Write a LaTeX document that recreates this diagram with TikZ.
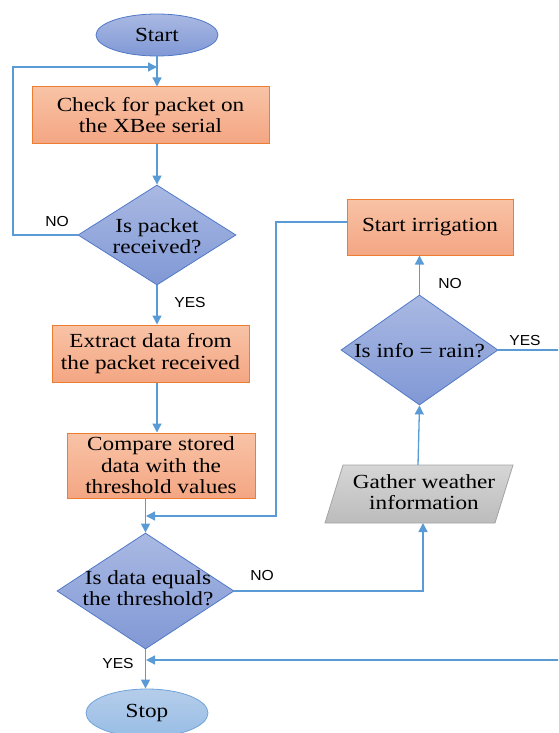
\documentclass[tikz,border=0pt]{standalone}
\usepackage{fontspec}
\setmainfont{Liberation Serif}[FakeStretch=1.16]
\newfontfamily\lblfont{Liberation Sans}[FakeStretch=1.08]
\usetikzlibrary{shapes.geometric,arrows.meta,calc}
\definecolor{procTop}{HTML}{F8C3A6}
\definecolor{procBot}{HTML}{F4A683}
\definecolor{procBorder}{HTML}{ED7D31}
\definecolor{decTop}{HTML}{AAB9E3}
\definecolor{decBot}{HTML}{8098D5}
\definecolor{decBorder}{HTML}{5079C8}
\definecolor{stopTop}{HTML}{B5CDEA}
\definecolor{stopBot}{HTML}{98BDE5}
\definecolor{stopBorder}{HTML}{6FA3DA}
\definecolor{ioTop}{HTML}{D6D6D6}
\definecolor{ioBot}{HTML}{BCBCBC}
\definecolor{ioBorder}{HTML}{A3A3A3}
\definecolor{lineC}{HTML}{5B9BD5}
\tikzset{
  proc/.style={draw=procBorder, line width=1pt, top color=procTop, bottom color=procBot,
    rectangle, inner sep=0pt, align=center, font=\fontsize{20}{21.5}\selectfont},
  dec/.style={draw=decBorder, line width=0.8pt, top color=decTop, bottom color=decBot,
    diamond, inner sep=0pt},
  term/.style={ellipse, inner sep=0pt, line width=0.8pt, font=\fontsize{20}{21.5}\selectfont},
  txt/.style={align=center, inner sep=0pt, font=\fontsize{20}{21.5}\selectfont},
  lbl/.style={inner sep=0pt, font=\lblfont\fontsize{14.5}{16}\selectfont},
  conn/.style={draw=lineC, line width=1.3pt},
  arr/.style={conn, -{Triangle[length=9pt,width=9pt]}},
}
\begin{document}
\begin{tikzpicture}[x=1pt,y=-1pt]
\useasboundingbox (0,0) rectangle (558,733);
\clip (0,0) rectangle (558,733);
% nodes
\node[term, draw=decBorder, top color=decTop, bottom color=decBot, minimum width=122, minimum height=42] (start) at (157,35) {Start};
\node[proc, minimum width=237, minimum height=56] (check) at (150.5,115) {Check for packet on\\the XBee serial};
\node[dec, minimum width=158, minimum height=100] (d1) at (157,235) {};
\node[txt] (d1t) at (157,236) {Is packet\\received?};
\node[proc, minimum width=197, minimum height=57] (extract) at (150.5,353.5) {Extract data from\\the packet received};
\node[proc, minimum width=188, minimum height=65] (compare) at (161,465.5) {Compare stored\\data with the\\threshold values};
\node[dec, minimum width=177, minimum height=116] (d2) at (145.5,591) {};
\node[txt] (d2t) at (148,588) {Is data equals\\the threshold?};
\node[term, draw=stopBorder, top color=stopTop, bottom color=stopBot, minimum width=122, minimum height=48] (stop) at (147,713) {Stop};
\node[proc, minimum width=166, minimum height=56] (irr) at (430,227) {Start irrigation};
\node[dec, minimum width=157, minimum height=110] (rain) at (419.5,350) {};
\node[txt] (raint) at (419.5,351) {Is info = rain?};
% gather parallelogram
\coordinate (g1) at (343,465);
\coordinate (g2) at (513,465);
\coordinate (g3) at (495,523);
\coordinate (g4) at (325,523);
\path[draw=ioBorder, line width=0.8pt, top color=ioTop, bottom color=ioBot] (g1) -- (g2) -- (g3) -- (g4) -- cycle;
\node[txt] (gather) at (424,492) {Gather weather\\information};
\coordinate (gtop) at (418,465);
\coordinate (gbot) at (423,523);
% helper coordinates
\coordinate (loopL) at (13,67);
\coordinate (loopJ) at (157,67);
\coordinate (irrL) at (276,222);
\coordinate (mergeA) at (276,516);
\coordinate (mergeJ) at (146,516);
\coordinate (farR) at (562,350);
\coordinate (farB) at (562,660);
\coordinate (mergeB) at (146,660);
% connectors
\draw[arr] (start.south) -- (start.south |- check.north);
\draw[arr] (d1.north |- check.south) -- (d1.north);
\draw[arr] (d1.west) -| (loopL) -- (loopJ);
\draw[arr] (d1.south) -- (d1.south |- extract.north);
\draw[arr] (d1.south |- extract.south) -- (d1.south |- compare.north);
\draw[arr] (d2.north |- compare.south) -- (d2.north);
\draw[arr] (irr.west |- irrL) -- (irrL) -- (mergeA) -- (mergeJ);
\draw[arr] (d2.east) -| (gbot);
\draw[arr] (gtop) -- (rain.south);
\draw[arr] (rain.north) -- (rain.north |- irr.south);
\draw[arr] (rain.east) -- (farR) -- (farB) -- (mergeB);
\draw[arr] (d2.south) -- (d2.south |- stop.north);
% labels
\node[lbl] (l1) at (57,222) {NO};
\node[lbl] (l2) at (190,303) {YES};
\node[lbl] (l3) at (450,284) {NO};
\node[lbl] (l4) at (525,341) {YES};
\node[lbl] (l5) at (262,576) {NO};
\node[lbl] (l6) at (118,664) {YES};
\end{tikzpicture}
\end{document}
